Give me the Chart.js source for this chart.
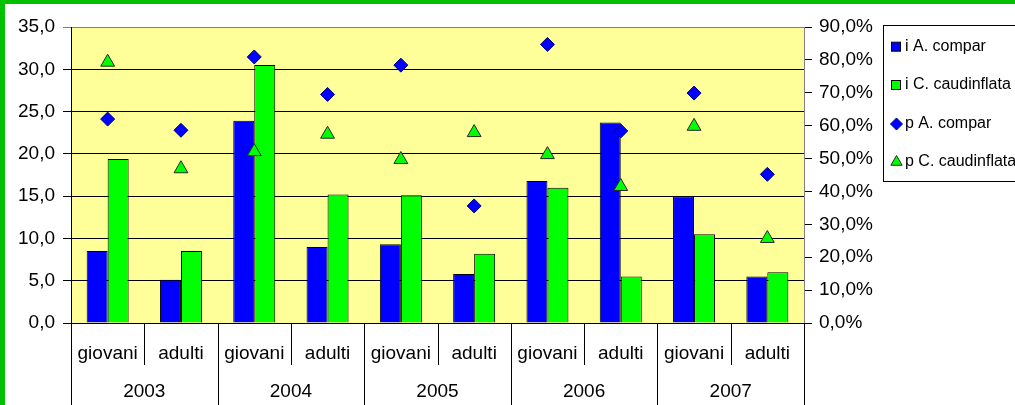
<!DOCTYPE html>
<html>
<head>
<meta charset="utf-8">
<script src="https://cdn.jsdelivr.net/npm/chart.js@4/dist/chart.umd.min.js"></script>
<style>
  html, body { margin: 0; padding: 0; background: #fff; }
  #wrap { width: 1015px; height: 405px; }
</style>
</head>
<body>
<div id="wrap"><canvas id="chart" width="1015" height="405"></canvas></div>
<script>
const groups = ["giovani", "adulti", "giovani", "adulti", "giovani", "adulti", "giovani", "adulti", "giovani", "adulti"];
const years = ["2003", "2004", "2005", "2006", "2007"];
const iCompar = [8.5, 5.1, 23.9, 9.0, 9.3, 5.8, 16.8, 23.7, 15.0, 5.5];
const iCaudinflata = [19.4, 8.5, 30.5, 15.2, 15.1, 8.2, 16.0, 5.5, 10.5, 6.0];
const pCompar = [62.0, 58.6, 80.9, 69.5, 78.4, 35.6, 84.7, 58.4, 69.9, 45.2];
const pCaudinflata = [79.3, 46.9, 52.1, 57.4, 49.7, 57.9, 51.2, 41.5, 59.8, 25.7];

const FONT = "'Liberation Sans', Arial, sans-serif";

function comma(v, d) {
  return v.toFixed(d).replace(".", ",");
}

// frame, plot background, two-level category axis and legend
const extras = {
  id: "extras",
  beforeDraw(chart) {
    const ctx = chart.ctx;
    const a = chart.chartArea;
    ctx.save();
    ctx.fillStyle = "#00c000";
    ctx.fillRect(0, 0, 1015, 4);
    ctx.fillRect(0, 0, 5, 405);
    ctx.fillStyle = "#ffff99";
    ctx.fillRect(a.left, a.top, a.right - a.left, a.bottom - a.top);
    ctx.restore();
  },
  afterDraw(chart) {
    const ctx = chart.ctx;
    const a = chart.chartArea;
    const x = chart.scales.x;
    const n = groups.length;
    const bounds = [];
    for (let i = 0; i <= n; i++) {
      if (i === 0) bounds.push(a.left);
      else if (i === n) bounds.push(a.right);
      else bounds.push((x.getPixelForValue(i - 1) + x.getPixelForValue(i)) / 2);
    }
    ctx.save();
    ctx.strokeStyle = "#000";
    ctx.lineWidth = 1;
    bounds.forEach((b, i) => {
      const px = Math.round(b) + 0.5;
      ctx.beginPath();
      ctx.moveTo(px, a.bottom);
      ctx.lineTo(px, i % 2 === 0 ? 405 : 365);
      ctx.stroke();
    });
    ctx.fillStyle = "#000";
    ctx.font = "19px " + FONT;
    ctx.textAlign = "center";
    ctx.textBaseline = "middle";
    years.forEach((y, k) => {
      ctx.fillText(y, (bounds[2 * k] + bounds[2 * k + 2]) / 2, 392);
    });

    // legend
    ctx.strokeStyle = "#000";
    ctx.fillStyle = "#fff";
    ctx.fillRect(883.5, 25.5, 140, 156);
    ctx.strokeRect(883.5, 25.5, 140, 156);
    const rows = [46.7, 85, 124, 162];
    const ds = chart.data.datasets;
    ctx.font = "16px " + FONT;
    ctx.textAlign = "left";
    ds.forEach((d, i) => {
      const cy = rows[i];
      ctx.fillStyle = d.backgroundColor;
      ctx.strokeStyle = d.borderColor;
      ctx.lineWidth = 1;
      if (d.type === "line") {
        Chart.helpers.drawPoint(ctx, {
          pointStyle: d.pointStyle,
          radius: d.pointStyle === "triangle" ? 6.5 : 6,
          borderWidth: 1,
          rotation: 0
        }, 896.5, cy);
      } else {
        ctx.fillRect(891.5, cy - 4.5, 9, 9);
        ctx.strokeRect(891.5, cy - 4.5, 9, 9);
      }
      ctx.fillStyle = "#000";
      ctx.fillText(d.label, 905, cy);
    });
    ctx.restore();
  }
};

new Chart(document.getElementById("chart"), {
  type: "bar",
  data: {
    labels: groups,
    datasets: [
      {
        label: "i A. compar",
        data: iCompar,
        backgroundColor: "#0000ff",
        borderColor: "#000",
        borderWidth: 1,
        categoryPercentage: 0.573,
        barPercentage: 1.0,
        yAxisID: "y",
        order: 2
      },
      {
        label: "i C. caudinflata",
        data: iCaudinflata,
        backgroundColor: "#00ff00",
        borderColor: "#000",
        borderWidth: 1,
        categoryPercentage: 0.573,
        barPercentage: 1.0,
        yAxisID: "y",
        order: 2
      },
      {
        type: "line",
        label: "p A. compar",
        data: pCompar,
        showLine: false,
        pointStyle: "rectRot",
        pointRadius: 7,
        backgroundColor: "#0000ff",
        borderColor: "#000080",
        borderWidth: 1,
        yAxisID: "y2",
        order: 1
      },
      {
        type: "line",
        label: "p C. caudinflata",
        data: pCaudinflata,
        showLine: false,
        pointStyle: "triangle",
        pointRadius: 8,
        backgroundColor: "#00ff00",
        borderColor: "#2a2a2a",
        borderWidth: 1,
        yAxisID: "y2",
        order: 0
      }
    ]
  },
  options: {
    responsive: false,
    animation: false,
    devicePixelRatio: 1,
    layout: { padding: { left: 5, top: 27, right: 131, bottom: 0 } },
    plugins: {
      legend: { display: false },
      tooltip: { enabled: false }
    },
    scales: {
      x: {
        grid: { display: false, drawTicks: false },
        border: { display: false },
        ticks: {
          color: "#000",
          font: { family: FONT, size: 19 },
          padding: 19,
          maxRotation: 0,
          autoSkip: false
        },
        afterFit(scale) { scale.height = 82; }
      },
      y: {
        min: 0,
        max: 35,
        position: "left",
        ticks: {
          stepSize: 5,
          color: "#000",
          padding: 8,
          font: { family: FONT, size: 19 },
          callback: (v) => comma(v, 1)
        },
        grid: {
          color: (c) => (c.tick && c.tick.value === 35 ? "#808080" : "#000"),
          tickLength: 8,
          lineWidth: 1
        },
        border: { color: "#000", width: 1 },
        afterFit(scale) { scale.width = 66; }
      },
      y2: {
        min: 0,
        max: 90,
        position: "right",
        ticks: {
          stepSize: 10,
          color: "#000",
          padding: 7,
          font: { family: FONT, size: 19 },
          callback: (v) => comma(v, 1) + "%"
        },
        grid: {
          drawOnChartArea: false,
          color: "#000",
          tickLength: 8
        },
        border: { color: "#808080", width: 1 },
        afterFit(scale) { scale.width = 80; }
      }
    }
  },
  plugins: [extras]
});
</script>
</body>
</html>
